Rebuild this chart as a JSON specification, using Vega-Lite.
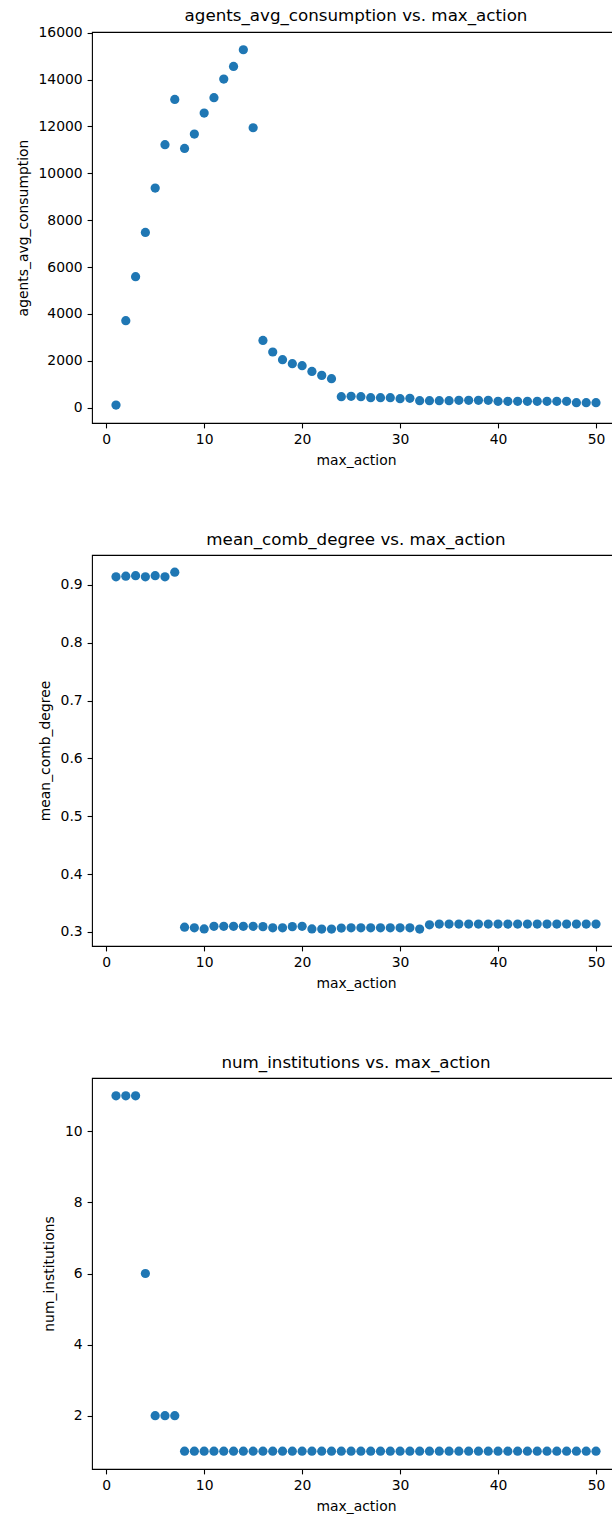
{
  "$schema": "https://vega.github.io/schema/vega-lite/v6.json",
  "padding": {"left": 15, "top": 7, "right": 0, "bottom": 0},
  "background": "white",
  "data": {
    "values": [
      {"max_action": 1, "agents_avg_consumption": 118, "mean_comb_degree": 0.914, "num_institutions": 11},
      {"max_action": 2, "agents_avg_consumption": 3714, "mean_comb_degree": 0.915, "num_institutions": 11},
      {"max_action": 3, "agents_avg_consumption": 5590, "mean_comb_degree": 0.916, "num_institutions": 11},
      {"max_action": 4, "agents_avg_consumption": 7479, "mean_comb_degree": 0.914, "num_institutions": 6},
      {"max_action": 5, "agents_avg_consumption": 9372, "mean_comb_degree": 0.916, "num_institutions": 2},
      {"max_action": 6, "agents_avg_consumption": 11219, "mean_comb_degree": 0.914, "num_institutions": 2},
      {"max_action": 7, "agents_avg_consumption": 13150, "mean_comb_degree": 0.922, "num_institutions": 2},
      {"max_action": 8, "agents_avg_consumption": 11061, "mean_comb_degree": 0.308, "num_institutions": 1},
      {"max_action": 9, "agents_avg_consumption": 11675, "mean_comb_degree": 0.307, "num_institutions": 1},
      {"max_action": 10, "agents_avg_consumption": 12570, "mean_comb_degree": 0.305, "num_institutions": 1},
      {"max_action": 11, "agents_avg_consumption": 13223, "mean_comb_degree": 0.3095, "num_institutions": 1},
      {"max_action": 12, "agents_avg_consumption": 14020, "mean_comb_degree": 0.3095, "num_institutions": 1},
      {"max_action": 13, "agents_avg_consumption": 14557, "mean_comb_degree": 0.3095, "num_institutions": 1},
      {"max_action": 14, "agents_avg_consumption": 15269, "mean_comb_degree": 0.3095, "num_institutions": 1},
      {"max_action": 15, "agents_avg_consumption": 11943, "mean_comb_degree": 0.3095, "num_institutions": 1},
      {"max_action": 16, "agents_avg_consumption": 2874, "mean_comb_degree": 0.309, "num_institutions": 1},
      {"max_action": 17, "agents_avg_consumption": 2379, "mean_comb_degree": 0.307, "num_institutions": 1},
      {"max_action": 18, "agents_avg_consumption": 2051, "mean_comb_degree": 0.307, "num_institutions": 1},
      {"max_action": 19, "agents_avg_consumption": 1880, "mean_comb_degree": 0.309, "num_institutions": 1},
      {"max_action": 20, "agents_avg_consumption": 1795, "mean_comb_degree": 0.3095, "num_institutions": 1},
      {"max_action": 21, "agents_avg_consumption": 1552, "mean_comb_degree": 0.305, "num_institutions": 1},
      {"max_action": 22, "agents_avg_consumption": 1382, "mean_comb_degree": 0.3048, "num_institutions": 1},
      {"max_action": 23, "agents_avg_consumption": 1241, "mean_comb_degree": 0.3048, "num_institutions": 1},
      {"max_action": 24, "agents_avg_consumption": 474, "mean_comb_degree": 0.3065, "num_institutions": 1},
      {"max_action": 25, "agents_avg_consumption": 488, "mean_comb_degree": 0.307, "num_institutions": 1},
      {"max_action": 26, "agents_avg_consumption": 474, "mean_comb_degree": 0.307, "num_institutions": 1},
      {"max_action": 27, "agents_avg_consumption": 431, "mean_comb_degree": 0.307, "num_institutions": 1},
      {"max_action": 28, "agents_avg_consumption": 431, "mean_comb_degree": 0.307, "num_institutions": 1},
      {"max_action": 29, "agents_avg_consumption": 431, "mean_comb_degree": 0.307, "num_institutions": 1},
      {"max_action": 30, "agents_avg_consumption": 388, "mean_comb_degree": 0.307, "num_institutions": 1},
      {"max_action": 31, "agents_avg_consumption": 403, "mean_comb_degree": 0.307, "num_institutions": 1},
      {"max_action": 32, "agents_avg_consumption": 303, "mean_comb_degree": 0.3048, "num_institutions": 1},
      {"max_action": 33, "agents_avg_consumption": 303, "mean_comb_degree": 0.3122, "num_institutions": 1},
      {"max_action": 34, "agents_avg_consumption": 303, "mean_comb_degree": 0.3134, "num_institutions": 1},
      {"max_action": 35, "agents_avg_consumption": 303, "mean_comb_degree": 0.3134, "num_institutions": 1},
      {"max_action": 36, "agents_avg_consumption": 317, "mean_comb_degree": 0.3134, "num_institutions": 1},
      {"max_action": 37, "agents_avg_consumption": 317, "mean_comb_degree": 0.3134, "num_institutions": 1},
      {"max_action": 38, "agents_avg_consumption": 317, "mean_comb_degree": 0.3134, "num_institutions": 1},
      {"max_action": 39, "agents_avg_consumption": 317, "mean_comb_degree": 0.3134, "num_institutions": 1},
      {"max_action": 40, "agents_avg_consumption": 275, "mean_comb_degree": 0.3134, "num_institutions": 1},
      {"max_action": 41, "agents_avg_consumption": 275, "mean_comb_degree": 0.3134, "num_institutions": 1},
      {"max_action": 42, "agents_avg_consumption": 275, "mean_comb_degree": 0.3134, "num_institutions": 1},
      {"max_action": 43, "agents_avg_consumption": 275, "mean_comb_degree": 0.3134, "num_institutions": 1},
      {"max_action": 44, "agents_avg_consumption": 275, "mean_comb_degree": 0.3134, "num_institutions": 1},
      {"max_action": 45, "agents_avg_consumption": 275, "mean_comb_degree": 0.3134, "num_institutions": 1},
      {"max_action": 46, "agents_avg_consumption": 275, "mean_comb_degree": 0.3134, "num_institutions": 1},
      {"max_action": 47, "agents_avg_consumption": 275, "mean_comb_degree": 0.3134, "num_institutions": 1},
      {"max_action": 48, "agents_avg_consumption": 218, "mean_comb_degree": 0.3134, "num_institutions": 1},
      {"max_action": 49, "agents_avg_consumption": 218, "mean_comb_degree": 0.3134, "num_institutions": 1},
      {"max_action": 50, "agents_avg_consumption": 218, "mean_comb_degree": 0.3134, "num_institutions": 1}
    ]
  },
  "spacing": 62,
  "vconcat": [
    {
      "width": 528,
      "height": 391,
      "title": {"text": "agents_avg_consumption vs. max_action", "offset": 1},
      "mark": {"type": "point", "filled": true, "opacity": 1, "size": 85, "color": "#1f77b4"},
      "encoding": {
        "x": {"field": "max_action", "type": "quantitative", "scale": {"domain": [-1.45, 52.45], "nice": false, "zero": false}, "axis": {"values": [0, 10, 20, 30, 40, 50], "title": "max_action", "titlePadding": 7}},
        "y": {"field": "agents_avg_consumption", "type": "quantitative", "scale": {"domain": [-649, 16026], "nice": false, "zero": false}, "axis": {"values": [0, 2000, 4000, 6000, 8000, 10000, 12000, 14000, 16000], "format": "d", "title": "agents_avg_consumption", "titlePadding": 8}}
      }
    },
    {
      "width": 528,
      "height": 391,
      "title": {"text": "mean_comb_degree vs. max_action"},
      "mark": {"type": "point", "filled": true, "opacity": 1, "size": 85, "color": "#1f77b4"},
      "encoding": {
        "x": {"field": "max_action", "type": "quantitative", "scale": {"domain": [-1.45, 52.45], "nice": false, "zero": false}, "axis": {"values": [0, 10, 20, 30, 40, 50], "title": "max_action", "titlePadding": 7}},
        "y": {"field": "mean_comb_degree", "type": "quantitative", "scale": {"domain": [0.2755, 0.9517], "nice": false, "zero": false}, "axis": {"values": [0.3, 0.4, 0.5, 0.6, 0.7, 0.8, 0.9], "format": ".1f", "title": "mean_comb_degree", "titlePadding": 8}}
      }
    },
    {
      "width": 528,
      "height": 391,
      "title": {"text": "num_institutions vs. max_action"},
      "mark": {"type": "point", "filled": true, "opacity": 1, "size": 85, "color": "#1f77b4"},
      "encoding": {
        "x": {"field": "max_action", "type": "quantitative", "scale": {"domain": [-1.45, 52.45], "nice": false, "zero": false}, "axis": {"values": [0, 10, 20, 30, 40, 50], "title": "max_action", "titlePadding": 7}},
        "y": {"field": "num_institutions", "type": "quantitative", "scale": {"domain": [0.5, 11.5], "nice": false, "zero": false}, "axis": {"values": [2, 4, 6, 8, 10], "format": "d", "title": "num_institutions", "titlePadding": 8}}
      }
    }
  ],
  "config": {
    "font": "DejaVu Sans",
    "view": {"stroke": "black", "strokeWidth": 1.1},
    "axis": {
      "domain": false,
      "grid": false,
      "ticks": true,
      "tickColor": "black",
      "tickSize": 4.9,
      "tickWidth": 1.1,
      "labelColor": "black",
      "labelFont": "DejaVu Sans",
      "labelFontSize": 13.9,
      "labelPadding": 4.9,
      "labelFlush": false,
      "labelOverlap": false,
      "titleFont": "DejaVu Sans",
      "titleFontSize": 13.9,
      "titleFontWeight": "normal",
      "titleColor": "black"
    },
    "title": {"font": "DejaVu Sans", "fontSize": 16.7, "fontWeight": "normal", "color": "black", "offset": 6, "frame": "group", "anchor": "middle"}
  }
}
